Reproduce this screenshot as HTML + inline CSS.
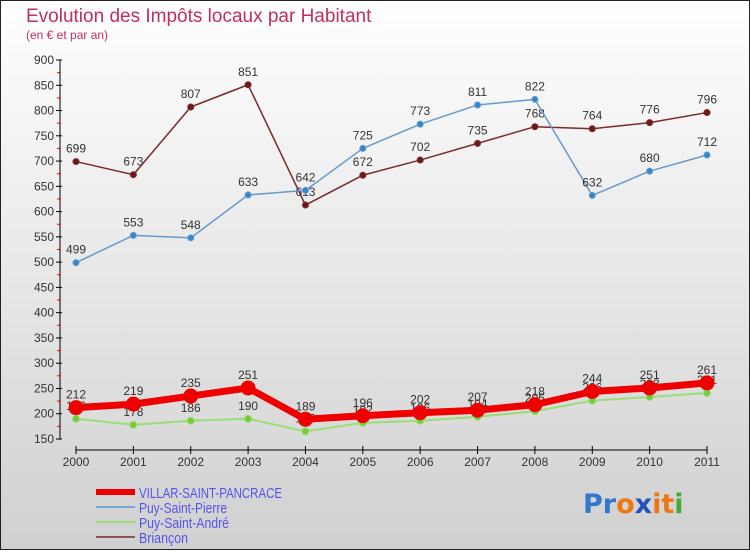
<!DOCTYPE html>
<html><head><meta charset="utf-8"><style>
html,body{margin:0;padding:0;}
body{width:750px;height:550px;overflow:hidden;font-family:"Liberation Sans",sans-serif;}
</style></head><body>
<svg id="chart" width="750" height="550" xmlns="http://www.w3.org/2000/svg" font-family="Liberation Sans, sans-serif">
<defs><linearGradient id="bg" x1="0" y1="0" x2="0" y2="1"><stop offset="0" stop-color="#ffffff"/><stop offset="1" stop-color="#d0d0d0"/></linearGradient></defs>
<rect x="0.5" y="0.5" width="749" height="549" fill="url(#bg)" stroke="#222" stroke-width="1"/>
<text x="26" y="22" font-size="19" fill="#c0305a">Evolution des Impôts locaux par Habitant</text>
<text x="26" y="39" font-size="12" fill="#c0305a">(en € et par an)</text>
<g id="axes"></g>
<g id="series"></g>
<g id="legend"></g>
<text x="583" y="513" font-size="27" font-weight="bold" font-family="DejaVu Sans, sans-serif"><tspan fill="#3377cc">Pr</tspan><tspan fill="#ee7711">o</tspan><tspan fill="#2255bb">x</tspan><tspan fill="#ee7711">it</tspan><tspan fill="#44aa33">i</tspan></text>
</svg>
<script>
const years=["2000","2001","2002","2003","2004","2005","2006","2007","2008","2009","2010","2011"];
const yTicks=[150,200,250,300,350,400,450,500,550,600,650,700,750,800,850,900];
const villar=[212,219,235,251,189,196,202,207,218,244,251,261];
const puyPierre=[499,553,548,633,642,725,773,811,822,632,680,712];
const puyAndre=[190,178,186,190,165,182,186,194,205,226,233,241];
const briancon=[699,673,807,851,613,672,702,735,768,764,776,796];
const NS="http://www.w3.org/2000/svg";
const X=i=>76+i*(707-76)/11;
const Y=v=>60+(900-v)*(439-60)/750;
function mk(t,a,p){const e=document.createElementNS(NS,t);for(const k in a)e.setAttribute(k,a[k]);p.appendChild(e);return e;}
const ax=document.getElementById('axes');
const yl=mk('line',{x1:60,y1:Y(900),x2:60,y2:Y(150),stroke:'#000','stroke-width':1},ax);


yTicks.forEach(v=>{
  mk('line',{x1:56,y1:Y(v),x2:62,y2:Y(v),stroke:'#000'},ax);
  if(v<900)mk('line',{x1:57,y1:Y(v+25),x2:61,y2:Y(v+25),stroke:'#e00'},ax);
  const t=mk('text',{x:54,y:Y(v)+4,'font-size':12,'text-anchor':'end',fill:'#333'},ax);
  
  
  t.textContent=v;
});
const xl=mk('line',{x1:X(0),y1:450,x2:X(11),y2:450,stroke:'#000'},ax);


years.forEach((y,i)=>{
  mk('line',{x1:X(i),y1:446,x2:X(i),y2:454,stroke:'#000'},ax);
  const t=mk('text',{x:X(i),y:466,'font-size':12,'text-anchor':'middle',fill:'#333'},ax);
  
  
  t.textContent=y;
});
const sg=document.getElementById('series');
function series(name,data,color,w,r,dot){
  const g=mk('g',{},sg);
  
  
  mk('polyline',{points:data.map((v,i)=>X(i)+','+Y(v)).join(' '),fill:'none',stroke:color,'stroke-width':w,'stroke-linejoin':'round'},g);
  data.forEach((v,i)=>{
    const c=mk('circle',{cx:X(i),cy:Y(v),r:r,fill:dot,stroke:color,'stroke-width':1},g);
    
    
  });
  data.forEach((v,i)=>{
    const t=mk('text',{x:X(i),y:Y(v)-9,'font-size':12,'text-anchor':'middle',fill:'#333'},g);
    
    
    t.textContent=v;
  });
}
series('series-puy-saint-andre',puyAndre,'#99dd77',2,3.5,'#77cc33');
series('series-briancon',briancon,'#7a2a2a',1.5,3,'#6a1a1a');
series('series-puy-saint-pierre',puyPierre,'#6699cc',1.5,3,'#3388cc');
series('series-villar-saint-pancrace',villar,'#ee0000',7,7,'#ee0000');
const lg=document.getElementById('legend');
const items=[["VILLAR-SAINT-PANCRACE","#ee0000",6],["Puy-Saint-Pierre","#77aacc",2],["Puy-Saint-André","#99dd77",2],["Briançon","#8a5555",2]];
items.forEach((it,k)=>{
  const y=492+k*15;
  const g=mk('g',{},lg);
  
  
  mk('line',{x1:96,y1:y,x2:135,y2:y,stroke:it[1],'stroke-width':it[2]},g);
  const t=mk('text',{x:139,y:y+6,'font-size':15,fill:'#5555ee',textLength:[143,88,90,49][k],lengthAdjust:'spacingAndGlyphs'},g);
  t.textContent=it[0];
});
</script>
</body></html>
